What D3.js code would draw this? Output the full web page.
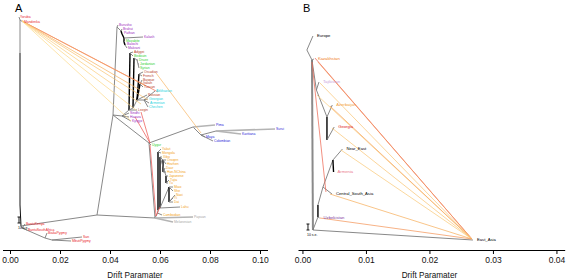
<!DOCTYPE html>
<html>
<head>
<meta charset="utf-8">
<script src="https://cdn.jsdelivr.net/npm/d3@7"></script>
<style>
  body { margin: 0; background: #fff; }
  svg { display: block; font-family: "Liberation Sans", Arial, sans-serif; }
</style>
</head>
<body>
<svg id="chart" width="567" height="279"></svg>
<script>
// ---- panel A: internal nodes [id, drift, height]
const nodesA = [
  ["R", 0.0044, 22], ["v3", 0.0040, 43], ["v2", 0.0040, 78], ["v1", 0.0040, 195], ["T", 0.0040, 228],
  ["B1", 0.0048, 20], ["B2", 0.0140, 10], ["B3", 0.0168, 8],
  ["X1", 0.0348, 33], ["X2", 0.0412, 133], ["X3", 0.0580, 30], ["X4", 0.0556, 105],
  ["AM", 0.0732, 121], ["AM2", 0.0764, 113], ["AM3", 0.0824, 117],
  ["E0", 0.0590, 35], ["EA", 0.0592, 38], ["E1", 0.0592, 96], ["E2", 0.0600, 40], ["E3", 0.0600, 91],
  ["G1", 0.0612, 88], ["G1b", 0.0612, 76], ["G2", 0.0624, 72], ["G2b", 0.0624, 65], ["G3", 0.0636, 61], ["G3b", 0.0636, 46],
  ["W1", 0.0428, 221], ["W2", 0.0444, 217], ["W3", 0.0448, 214], ["W4", 0.0456, 210], ["W5", 0.0456, 206], ["W6", 0.0460, 203],
  ["M1", 0.0448, 132], ["M2", 0.0476, 138], ["M3", 0.0480, 195], ["M4", 0.0492, 140], ["M5", 0.0496, 190],
  ["M6", 0.0508, 188], ["M7", 0.0512, 184],
  ["EU1", 0.0508, 148], ["EU2", 0.0516, 174], ["EU3", 0.0520, 164], ["CA", 0.0536, 148]
];

// edges [from, to, style]  style: 0 grey, 1 black, 2 light grey, 3 thick grey, 4 thin black
const edgesA = [
  ["R", "v3", 4], ["v3", "v2", 3], ["v2", "v1", 4], ["v1", "T", 0],
  ["R", "B1", 0], ["B1", "B2", 0], ["B2", "B3", 0],
  ["R", "X1", 0], ["X1", "X2", 0], ["X1", "X3", 0], ["X3", "X4", 0], ["X2", "X4", 0],
  ["X4", "AM", 0], ["AM", "AM2", 0], ["AM2", "AM3", 0],
  ["X2", "W1", 0], ["W1", "W2", 0], ["W2", "W3", 1], ["W3", "W4", 1], ["W4", "W5", 1], ["W5", "W6", 1],
  ["X2", "M1", 0], ["M1", "M2", 0], ["M2", "M3", 1], ["M2", "M4", 0], ["M4", "M5", 1],
  ["M5", "M6", 0], ["M6", "M7", 0], ["M4", "EU1", 0], ["EU1", "EU2", 1], ["EU1", "EU3", 1], ["EU1", "CA", 0],
  ["X3", "E0", 0], ["E0", "EA", 0], ["EA", "E1", 1], ["EA", "E2", 0], ["E2", "E3", 1],
  ["E3", "G1", 0], ["G1", "G1b", 1], ["E3", "G2", 0], ["G2", "G2b", 1], ["E2", "G3", 0], ["G3", "G3b", 1]
];

// leaves [name, drift, height, parent, group, edgeStyle]
const leavesA = [
  ["Yoruba", 0.0036, 231, "T", "afr"], ["Mandenka", 0.0052, 226, "T", "afr"],
  ["BantuKenya", 0.0060, 24, "B1", "afr"], ["BantuSouthAfrica", 0.0068, 18, "B1", "afr"],
  ["BiakaPygmy", 0.0148, 15, "B2", "afr"], ["San", 0.0288, 11, "B3", "afr"], ["MbutiPygmy", 0.0244, 7, "B3", "afr"],
  ["Papuan", 0.0732, 31, "X3", "oce", 2], ["Melanesian", 0.0652, 26, "X3", "oce", 2],
  ["Uygur", 0.0564, 103, "X4", "mde"],
  ["Pima", 0.0820, 123, "AM", "ame", 2], ["Maya", 0.0780, 111, "AM2", "ame"], ["Colombian", 0.0812, 107, "AM2", "ame"],
  ["Karitiana", 0.0924, 114, "AM3", "ame", 2], ["Surui", 0.1060, 119, "AM3", "ame", 2],
  ["Burusho", 0.0432, 223, "W1", "csa"], ["Brahui", 0.0448, 219, "W2", "csa"], ["Pathan", 0.0452, 215, "W3", "csa"],
  ["Kalash", 0.0532, 211, "W4", "csa"], ["Mozabite", 0.0460, 207, "W5", "mde"],
  ["Balochi", 0.0464, 204, "W6", "csa"], ["Makrani", 0.0468, 200, "W6", "csa"],
  ["Sindhi", 0.0476, 135, "M1", "csa"], ["Hazara", 0.0476, 131, "M1", "csa"], ["Kyrgyz", 0.0484, 127, "M1", "csa"],
  ["Adygei", 0.0492, 196, "M3", "eur"], ["Bedouin", 0.0492, 192, "M3", "mde"],
  ["Druze", 0.0512, 188, "M6", "mde"], ["Jordanian", 0.0516, 184, "M7", "mde"], ["Syrian", 0.0516, 180, "M7", "mde"],
  ["Lezgin", 0.0508, 138, "M2", "eur"],
  ["Orcadian", 0.0532, 176, "EU2", "eur"], ["French", 0.0528, 172, "EU2", "eur"],
  ["Basque", 0.0528, 168, "EU3", "eur"], ["Italian", 0.0528, 165, "EU3", "eur"], ["Tuscan", 0.0532, 161, "EU3", "eur"],
  ["Russian", 0.0548, 153, "EU1", "eur"],
  ["Abkhazian", 0.0580, 157, "CA", "cau"], ["Georgian", 0.0552, 149, "CA", "cau"],
  ["Armenian", 0.0556, 145, "CA", "cau"], ["Chechen", 0.0552, 141, "CA", "cau"],
  ["Yakut", 0.0604, 99, "E1", "eas"], ["Mongola", 0.0604, 95, "E1", "eas"], ["Xibo", 0.0608, 91, "E3", "eas"],
  ["Oroqen", 0.0624, 88, "G1", "eas"], ["Hezhen", 0.0624, 84, "G1", "eas"],
  ["Daur", 0.0620, 80, "G1b", "eas"], ["Han-NChina", 0.0624, 76, "G1b", "eas"],
  ["Japanese", 0.0632, 72, "G2", "eas"], ["Tujia", 0.0636, 68, "G2b", "eas"], ["Tu", 0.0632, 65, "G2b", "eas"],
  ["Miao", 0.0652, 61, "G3", "eas"], ["She", 0.0652, 57, "G3", "eas"],
  ["Naxi", 0.0660, 53, "G3b", "eas"], ["Yi", 0.0652, 50, "G3b", "eas"], ["Dai", 0.0652, 46, "G3b", "eas"],
  ["Lahu", 0.0680, 41, "E2", "eas"], ["Cambodian", 0.0608, 33, "E0", "eas"]
];

// migration edges [fromDrift, fromHeight, toDrift, toHeight, weight]
const migrationsA = [
  [0.0048, 227, 0.0592, 156, 0.42], [0.0048, 227, 0.0544, 162, 0.30], [0.0048, 227, 0.0520, 158, 0.22],
  [0.0048, 227, 0.0552, 148, 0.14], [0.0048, 227, 0.0524, 144, 0.10], [0.0048, 227, 0.0504, 138, 0.06],
  [0.0048, 227, 0.0484, 127, 0.04],
  [0.0584, 175, 0.0764, 115, 0.20],
  [0.0524, 136, 0.0560, 105, 0.50], [0.0500, 131, 0.0560, 105, 0.50],
  [0.0560, 103, 0.0584, 32, 0.50], [0.0600, 41, 0.0584, 32, 0.50]
];

// ---- panel B
const nodesB = [
  ["RB", 0.00165, 18], ["K", 0.0015, 188], ["E1b", 0.0007, 198], ["N1", 0.0022, 158],
  ["N2", 0.00386, 131], ["N3", 0.00386, 108], ["U1", 0.00244, 31], ["U2", 0.00244, 43],
  ["N5", 0.00323, 61], ["N4", 0.0048, 88]
];
const edgesB = [
  ["RB", "K", 3], ["K", "E1b", 0], ["RB", "U1", 0], ["U1", "U2", 1], ["U2", "N5", 0], ["N5", "N4", 0],
  ["K", "N1", 0], ["N1", "N2", 0], ["N2", "N3", 1]
];
const leavesB = [
  ["Europe", 0.00165, 212, "E1b", "blk"], ["Kazakhstan", 0.0018, 189, "K", "kaz"],
  ["Tajikistan", 0.0026, 166, "N1", "taj"], ["Azerbaijan", 0.0047, 143, "N2", "aze"],
  ["Georgia", 0.0050, 121, "N3", "geo"], ["Near_East", 0.0063, 99, "N4", "blk"],
  ["Armenia", 0.0049, 76, "N4", "arm", 1], ["Central_South_Asia", 0.00465, 54, "N5", "blk"],
  ["Uzbekistan", 0.0027, 30, "U1", "uzb"], ["East_Asia", 0.02685, 8, "RB", "blk"]
];
const migrationsB = [
  [0.00197, 190, 0.02669, 9, 0.48], [0.00244, 186, 0.02669, 9, 0.32], [0.00276, 165, 0.02669, 9, 0.14],
  [0.00228, 153, 0.02669, 9, 0.10], [0.00433, 142, 0.02669, 9, 0.28], [0.00465, 120, 0.02669, 9, 0.14],
  [0.00606, 98, 0.02669, 9, 0.12], [0.00433, 54, 0.02669, 9, 0.24], [0.00276, 30, 0.02669, 9, 0.32],
  [0.0015, 186, 0.0037, 56, 0.45]
];

// axis ticks and scale bars
const ticksA = [0, 0.02, 0.04, 0.06, 0.08, 0.10];
const ticksB = [0, 0.01, 0.02, 0.03, 0.04];
const scaleBarA = [0.0036, 28, 6];
const scaleBarB = [0.00087, 21, 6];

const groupColor = {
  afr: "#e8262b", csa: "#9b2fc0", mde: "#2fd12f", eur: "#b8432a", cau: "#1fd3e0",
  ame: "#2a2ad8", eas: "#f2a31c", oce: "#a8a8a8", blk: "#000000",
  kaz: "#f07d1e", taj: "#c9a3d9", aze: "#f2a03a", geo: "#e02020", arm: "#ea7b8d", uzb: "#7b3ba0"
};
const edgeStyle = [
  { stroke: "#7a7a7a", w: 0.9 }, { stroke: "#000000", w: 1.4 },
  { stroke: "#b4b4b4", w: 1.6 }, { stroke: "#8a8a8a", w: 2.0 }, { stroke: "#111111", w: 1.0 }
];
const migColor = d3.scaleLinear().domain([0, 0.25, 0.5]).range(["#fde49a", "#f7b060", "#ec5a55"]).clamp(true);

const svg = d3.select("#chart");
const y = d3.scaleLinear().domain([0, 240]).range([248, 8]);
const xA = d3.scaleLinear().domain([-0.003, 0.103]).range([2.5, 267.5]);
const xB = d3.scaleLinear().domain([-0.0007, 0.0413]).range([298, 564.7]);

function drawPanel(x, nodes, edges, leaves, migrations, ticks, bar, opts) {
  const g = svg.append("g");
  const pos = {};
  nodes.forEach(n => { pos[n[0]] = [x(n[1]), y(n[2])]; });
  leaves.forEach(l => { pos[l[0]] = [x(l[1]), y(l[2])]; });

  const allEdges = edges.concat(leaves.map(l => [l[3], l[0], l[5] || 0]));
  g.append("g").selectAll("line").data(allEdges).join("line")
    .attr("x1", d => pos[d[0]][0]).attr("y1", d => pos[d[0]][1])
    .attr("x2", d => pos[d[1]][0]).attr("y2", d => pos[d[1]][1])
    .attr("stroke", d => edgeStyle[d[2]].stroke)
    .attr("stroke-width", d => edgeStyle[d[2]].w);

  g.append("g").selectAll("line").data(migrations).join("line")
    .attr("x1", d => x(d[0])).attr("y1", d => y(d[1]))
    .attr("x2", d => x(d[2])).attr("y2", d => y(d[3]))
    .attr("stroke", d => migColor(d[4]))
    .attr("stroke-width", 0.75);

  g.append("g").selectAll("text").data(leaves).join("text")
    .attr("x", d => x(d[1]) + opts.labelOffset)
    .attr("y", d => y(d[2]))
    .attr("dy", "0.35em")
    .attr("font-size", opts.labelSize)
    .attr("fill", d => groupColor[d[4]])
    .text(d => d[0]);

  // scale bar (10 s.e.)
  const bx = x(bar[0]), by0 = y(bar[1] - bar[2] / 2), by1 = y(bar[1] + bar[2] / 2);
  const sb = g.append("g").attr("stroke", "#000").attr("stroke-width", 0.9);
  sb.append("line").attr("x1", bx).attr("x2", bx).attr("y1", by0).attr("y2", by1);
  sb.append("line").attr("x1", bx - 1.5).attr("x2", bx + 1.5).attr("y1", by0).attr("y2", by0);
  sb.append("line").attr("x1", bx - 1.5).attr("x2", bx + 1.5).attr("y1", by1).attr("y2", by1);
  g.append("text").attr("x", bx - 1).attr("y", by0 + 6).attr("font-size", 3.5).text("10 s.e.");

  const ax = g.append("g").attr("transform", "translate(0,250)")
    .call(d3.axisBottom(x).tickValues(ticks).tickFormat(d3.format(".2f")).tickSize(4).tickSizeOuter(0));
  ax.select(".domain").attr("stroke", "#000").attr("stroke-width", 1);
  ax.selectAll(".tick line").attr("stroke", "#000");
  ax.selectAll(".tick text").attr("font-size", 8.5).attr("fill", "#111")
    .attr("font-family", "Liberation Sans, Arial, sans-serif");

  g.append("text").attr("x", (x(ticks[0]) + x(ticks[ticks.length - 1])) / 2).attr("y", 278)
    .attr("text-anchor", "middle").attr("font-size", 8.2).attr("fill", "#111").text("Drift Paramater");

  g.append("text").attr("x", opts.letterX).attr("y", 12).attr("font-size", 11).attr("fill", "#000").text(opts.letter);
}

drawPanel(xA, nodesA, edgesA, leavesA, migrationsA, ticksA, scaleBarA,
  { labelOffset: 1, labelSize: 3.4, letter: "A", letterX: 15 });
drawPanel(xB, nodesB, edgesB, leavesB, migrationsB, ticksB, scaleBarB,
  { labelOffset: 4, labelSize: 4.2, letter: "B", letterX: 303 });
</script>
</body>
</html>
